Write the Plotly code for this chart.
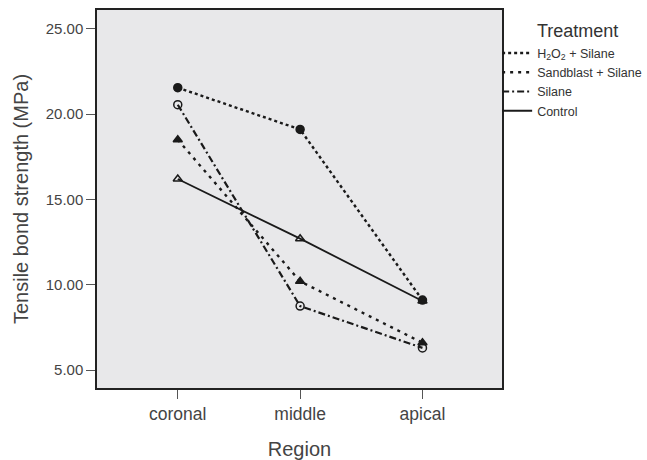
import plotly.graph_objects as go

regions = ["coronal", "middle", "apical"]
treatments = ["H<sub>2</sub>O<sub>2</sub> + Silane", "Sandblast + Silane", "Silane", "Control"]
h2o2_silane = [21.55, 19.1, 9.1]
sandblast_silane = [18.5, 10.2, 6.6]
silane = [20.55, 8.75, 6.3]
control = [16.2, 12.7, 9.05]
y_ticks = [5, 10, 15, 20, 25]

series = [h2o2_silane, sandblast_silane, silane, control]
dashes = ["dot", "3px,5px", "7px,3px,2px,3px", "solid"]
symbols = ["circle", "triangle-up", "circle-open", "triangle-up-open"]
widths = [2.4, 2.4, 2.2, 1.8]
col = "#1a1a1a"
txt = "#444444"

fig = go.Figure()
for name, ys, d, s, w in zip(treatments, series, dashes, symbols, widths):
    fig.add_trace(go.Scatter(
        x=regions, y=ys, mode="lines+markers", showlegend=False,
        line=dict(color=col, width=w, dash=d),
        marker=dict(symbol=s, size=8, color=col, line=dict(color=col, width=1.5)),
    ))
    fig.add_trace(go.Scatter(
        x=[None], y=[None], mode="lines", name=name,
        line=dict(color=col, width=w, dash=d),
    ))

font_family = "Liberation Sans, Arial, sans-serif"
fig.update_layout(
    width=647, height=460,
    margin=dict(l=97, r=145, t=10, b=72, autoexpand=False),
    paper_bgcolor="white",
    plot_bgcolor="#e8e8ea",
    font=dict(family=font_family, color=txt, size=13),
    showlegend=True,
    legend=dict(
        x=0.988, xanchor="left", y=0.925, yanchor="top",
        font=dict(size=12.5, color="#333333"),
        itemwidth=30, tracegroupgap=0,
        bgcolor="rgba(0,0,0,0)",
    ),
    annotations=[dict(
        text="Treatment", x=1.081, xref="paper", xanchor="left",
        y=0.944, yref="paper", yanchor="middle",
        showarrow=False, font=dict(size=18, color="#333333"),
    )],
    xaxis=dict(
        title=dict(text="Region", font=dict(size=20, color=txt), standoff=24),
        range=[-0.66, 2.65], automargin=False,
        showline=True, mirror=True, linecolor="#222222", linewidth=1.5,
        ticks="outside", ticklen=9, tickcolor="#555555",
        showgrid=False, zeroline=False,
        tickfont=dict(size=17.5, color=txt),
    ),
    yaxis=dict(
        title=dict(text="Tensile bond strength (MPa)", font=dict(size=20, color=txt), standoff=12),
        range=[3.95, 26.1], automargin=False,
        tickvals=y_ticks, tickformat=".2f",
        showline=True, mirror=True, linecolor="#222222", linewidth=1.5,
        ticks="outside", ticklen=9, tickcolor="#555555",
        showgrid=False, zeroline=False,
        tickfont=dict(size=15, color=txt),
    ),
)

fig.write_html(
    "out.html",
    config={"displayModeBar": False},
    post_script="document.body.style.margin='0';document.body.style.overflow='hidden';",
)
